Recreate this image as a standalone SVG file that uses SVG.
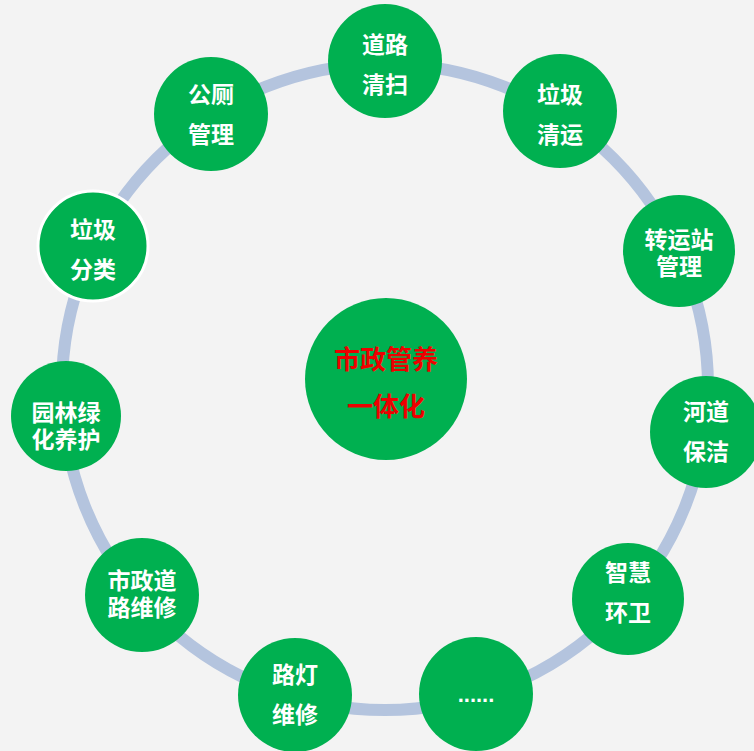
<svg xmlns="http://www.w3.org/2000/svg" width="754" height="751" viewBox="0 0 754 751">
<style>
.n{fill:#00b050}
.t{font-family:"Noto Sans CJK SC","Microsoft YaHei",sans-serif;font-weight:bold;font-size:23px;fill:#fff;text-anchor:middle}
.c{font-family:"Noto Sans CJK SC","Microsoft YaHei",sans-serif;font-weight:bold;font-size:26px;fill:#ee0000;text-anchor:middle}
</style>
<rect width="754" height="751" fill="#f3f3f3"/>
<g id="connectors">
<circle cx="385" cy="387" r="323" fill="none" stroke="#b4c4de" stroke-width="12"/>
</g>
<g id="center"><circle class="n" cx="386" cy="379" r="81"/><text class="c" x="386" y="369">市政管养</text><text class="c" x="386" y="416">一体化</text></g>
<g id="n1"><circle class="n" cx="385" cy="61" r="57"/><text class="t" x="385" y="53">道路</text><text class="t" x="385" y="93">清扫</text></g>
<g id="n2"><circle class="n" cx="560" cy="111" r="57"/><text class="t" x="560" y="103">垃圾</text><text class="t" x="560" y="143">清运</text></g>
<g id="n3"><circle class="n" cx="679" cy="251" r="56"/><text class="t" x="679" y="248">转运站</text><text class="t" x="679" y="275">管理</text></g>
<g id="n4"><circle class="n" cx="706" cy="432" r="56"/><text class="t" x="706" y="420">河道</text><text class="t" x="706" y="460">保洁</text></g>
<g id="n5"><circle class="n" cx="628" cy="599" r="56"/><text class="t" x="628" y="581">智慧</text><text class="t" x="628" y="621">环卫</text></g>
<g id="n6"><circle class="n" cx="476" cy="694" r="57"/><text x="476" y="702" style="font-family:'Liberation Sans',sans-serif;font-weight:bold;font-size:22px;fill:#fff;text-anchor:middle">......</text></g>
<g id="n7"><circle class="n" cx="295" cy="695" r="57"/><text class="t" x="295" y="683">路灯</text><text class="t" x="295" y="723">维修</text></g>
<g id="n8"><circle class="n" cx="142" cy="595" r="57"/><text class="t" x="142" y="589">市政道</text><text class="t" x="142" y="616">路维修</text></g>
<g id="n9"><circle class="n" cx="66" cy="416" r="55"/><text class="t" x="66" y="421">园林绿</text><text class="t" x="66" y="448">化养护</text></g>
<g id="n10"><circle class="n" cx="93" cy="246" r="55" stroke="#fff" stroke-width="3"/><text class="t" x="93" y="238">垃圾</text><text class="t" x="93" y="278">分类</text></g>
<g id="n11"><circle class="n" cx="211" cy="114" r="57"/><text class="t" x="211" y="103">公厕</text><text class="t" x="211" y="143">管理</text></g>
</svg>
